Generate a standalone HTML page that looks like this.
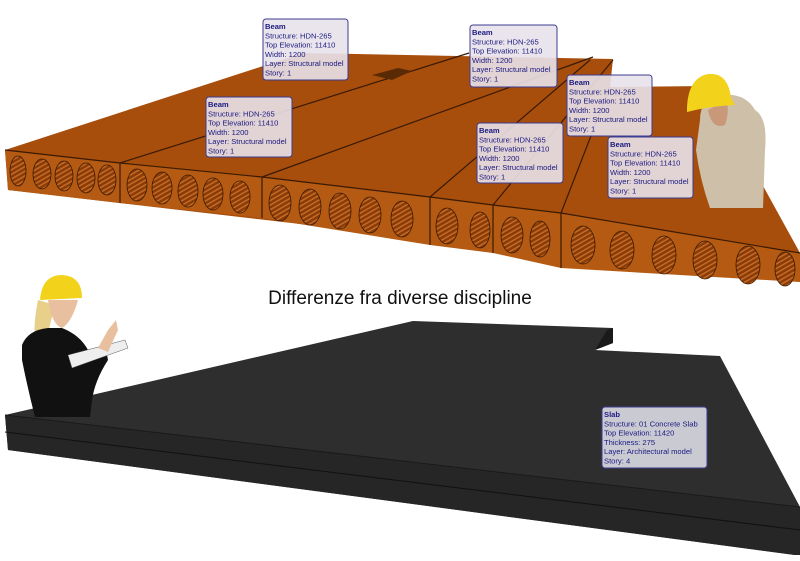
<!DOCTYPE html>
<html><head><meta charset="utf-8"><style>
body{margin:0;background:#fff;}
svg{display:block}
.lb{font-family:"Liberation Sans",sans-serif;font-size:7.6px;fill:#1a1a80;}
.lbb{font-weight:bold;}
</style></head><body>
<svg width="800" height="561" viewBox="0 0 800 561" xmlns="http://www.w3.org/2000/svg">
<defs>
<pattern id="hs" width="4" height="4" patternUnits="userSpaceOnUse" patternTransform="rotate(60)">
<rect width="4" height="4" fill="#8a3c08"/><rect width="1.5" height="4" fill="#c56a25"/></pattern>
</defs>
<!-- brown slab -->
<polygon points="5,150 303,53 613,59 610,87 708,86 800,253 800,282 8,190" fill="#a84e0c"/>
<polygon points="5,150 120,163 262,177 430,197 493,205 561,213 800,253 800,282 561,268 493,253 430,245 262,218 120,203 8,190" fill="#b45a12"/>
<g stroke="#3a1a02" stroke-width="1.2" fill="none">
<polyline points="5,150 120,163 262,177 430,197 493,205 561,213 800,253"/>
<line x1="120" y1="163" x2="469" y2="53"/>
<line x1="262" y1="177" x2="593" y2="57"/>
<line x1="430" y1="197" x2="590" y2="60"/>
<line x1="493" y1="205" x2="613" y2="60"/>
<line x1="561" y1="213" x2="610" y2="87"/>
<line x1="120" y1="163" x2="120" y2="203"/>
<line x1="262" y1="177" x2="262" y2="218"/>
<line x1="430" y1="197" x2="430" y2="245"/>
<line x1="493" y1="205" x2="493" y2="253"/>
<line x1="561" y1="213" x2="561" y2="268"/>
</g>
<polygon points="372,75 398,68 412,71 392,80" fill="#5a2a05"/>
<g fill="url(#hs)" stroke="#3a1a02" stroke-width="0.8">
<ellipse cx="18" cy="171" rx="8" ry="15"/><ellipse cx="42" cy="174" rx="9" ry="15"/><ellipse cx="64" cy="176" rx="9" ry="15"/><ellipse cx="86" cy="178" rx="9" ry="15"/><ellipse cx="107" cy="180" rx="9" ry="15"/>
<ellipse cx="137" cy="185" rx="10" ry="16"/><ellipse cx="162" cy="188" rx="10" ry="16"/><ellipse cx="188" cy="191" rx="10" ry="16"/><ellipse cx="213" cy="194" rx="10" ry="16"/><ellipse cx="240" cy="197" rx="10" ry="16"/>
<ellipse cx="280" cy="203" rx="11" ry="18"/><ellipse cx="310" cy="207" rx="11" ry="18"/><ellipse cx="340" cy="211" rx="11" ry="18"/><ellipse cx="370" cy="215" rx="11" ry="18"/><ellipse cx="402" cy="219" rx="11" ry="18"/>
<ellipse cx="447" cy="226" rx="11" ry="18"/><ellipse cx="480" cy="230" rx="10" ry="18"/><ellipse cx="512" cy="235" rx="11" ry="18"/><ellipse cx="540" cy="239" rx="10" ry="18"/>
<ellipse cx="583" cy="245" rx="12" ry="19"/><ellipse cx="622" cy="250" rx="12" ry="19"/><ellipse cx="664" cy="255" rx="12" ry="19"/><ellipse cx="705" cy="260" rx="12" ry="19"/><ellipse cx="748" cy="265" rx="12" ry="19"/><ellipse cx="785" cy="269" rx="10" ry="17"/>
</g>
<!-- man -->
<path d="M700,120 Q700,98 720,95 Q745,92 755,110 Q768,118 765,150 L763,208 L710,208 Q700,180 696,150 Z" fill="#cdbfa8"/>
<path d="M708,110 Q712,130 725,125 Q730,110 726,100 Z" fill="#c89878"/>
<path d="M687,108 Q688,78 708,74 Q728,72 731,98 L735,105 Q710,106 687,112 Z" fill="#f2d21a"/>
<!-- title -->
<text x="400" y="304" text-anchor="middle" font-family="Liberation Sans, sans-serif" font-size="19" fill="#111">Differenze fra diverse discipline</text>
<!-- dark slab -->
<polygon points="5,415 413,321 613,328 613,343 595,350 720,356 800,507 800,555 795,555 8,450" fill="#2e2e2e"/>
<polygon points="5,415 800,507 800,555 795,555 8,450" fill="#262626"/>
<polygon points="595,350 613,343 613,328 607,330" fill="#1a1a1a"/>
<line x1="5" y1="432" x2="800" y2="530" stroke="#111" stroke-width="1"/>
<line x1="5" y1="415" x2="800" y2="507" stroke="#1a1a1a" stroke-width="1"/>
<!-- label boxes -->
<g fill="#e8e2ea" fill-opacity="0.9" stroke="#3c3c90" stroke-width="1">
<rect x="263" y="19" width="85" height="61" rx="3"/>
<rect x="470" y="25" width="87" height="62" rx="3"/>
<rect x="206" y="97" width="86" height="60" rx="3"/>
<rect x="567" y="75" width="85" height="61" rx="3"/>
<rect x="477" y="123" width="86" height="60" rx="3"/>
<rect x="608" y="137" width="85" height="61" rx="3"/>
<rect x="602" y="407" width="105" height="61" rx="3" fill="#dcdce6"/>
</g>
<g class="lb">
<text x="265" y="29"><tspan class="lbb">Beam</tspan><tspan x="265" dy="9.3">Structure: HDN-265</tspan><tspan x="265" dy="9.3">Top Elevation:  11410</tspan><tspan x="265" dy="9.3">Width: 1200</tspan><tspan x="265" dy="9.3">Layer: Structural model</tspan><tspan x="265" dy="9.3">Story: 1</tspan></text>
<text x="472" y="35"><tspan class="lbb">Beam</tspan><tspan x="472" dy="9.3">Structure: HDN-265</tspan><tspan x="472" dy="9.3">Top Elevation:  11410</tspan><tspan x="472" dy="9.3">Width: 1200</tspan><tspan x="472" dy="9.3">Layer: Structural model</tspan><tspan x="472" dy="9.3">Story: 1</tspan></text>
<text x="208" y="107"><tspan class="lbb">Beam</tspan><tspan x="208" dy="9.3">Structure: HDN-265</tspan><tspan x="208" dy="9.3">Top Elevation:  11410</tspan><tspan x="208" dy="9.3">Width: 1200</tspan><tspan x="208" dy="9.3">Layer: Structural model</tspan><tspan x="208" dy="9.3">Story: 1</tspan></text>
<text x="569" y="85"><tspan class="lbb">Beam</tspan><tspan x="569" dy="9.3">Structure: HDN-265</tspan><tspan x="569" dy="9.3">Top Elevation:  11410</tspan><tspan x="569" dy="9.3">Width: 1200</tspan><tspan x="569" dy="9.3">Layer: Structural model</tspan><tspan x="569" dy="9.3">Story: 1</tspan></text>
<text x="479" y="133"><tspan class="lbb">Beam</tspan><tspan x="479" dy="9.3">Structure: HDN-265</tspan><tspan x="479" dy="9.3">Top Elevation:  11410</tspan><tspan x="479" dy="9.3">Width: 1200</tspan><tspan x="479" dy="9.3">Layer: Structural model</tspan><tspan x="479" dy="9.3">Story: 1</tspan></text>
<text x="610" y="147"><tspan class="lbb">Beam</tspan><tspan x="610" dy="9.3">Structure: HDN-265</tspan><tspan x="610" dy="9.3">Top Elevation:  11410</tspan><tspan x="610" dy="9.3">Width: 1200</tspan><tspan x="610" dy="9.3">Layer: Structural model</tspan><tspan x="610" dy="9.3">Story: 1</tspan></text>
<text x="604" y="417"><tspan class="lbb">Slab</tspan><tspan x="604" dy="9.3">Structure: 01  Concrete Slab</tspan><tspan x="604" dy="9.3">Top Elevation:  11420</tspan><tspan x="604" dy="9.3">Thickness: 275</tspan><tspan x="604" dy="9.3">Layer: Architectural model</tspan><tspan x="604" dy="9.3">Story: 4</tspan></text>
</g>
<!-- woman -->
<path d="M38,300 Q32,330 36,350 L45,345 L55,305 Z" fill="#e8cf8a"/>
<path d="M22,345 Q28,330 48,328 L62,328 Q80,335 88,350 L105,345 L108,360 Q95,380 92,400 L90,417 L35,417 Q28,390 22,360 Z" fill="#111"/>
<path d="M48,300 Q52,325 62,328 Q72,322 78,300 Z" fill="#e8c0a0"/>
<path d="M68,355 L125,340 L128,348 L72,368 Z" fill="#eee" stroke="#555" stroke-width="0.5"/>
<path d="M98,348 L108,330 L116,320 L118,330 L108,352 Z" fill="#e8c0a0"/>
<path d="M40,300 Q42,275 62,275 Q82,276 82,298 Z" fill="#f2d21a"/>
</svg>
</body></html>
